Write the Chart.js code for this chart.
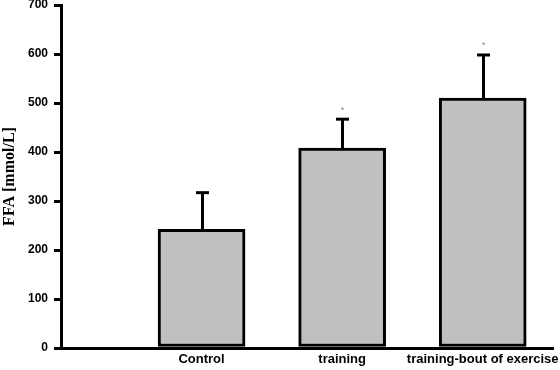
<!DOCTYPE html>
<html>
<head>
<meta charset="utf-8">
<script src="https://cdn.jsdelivr.net/npm/chart.js@4"></script>
<style>
  html, body { margin: 0; padding: 0; background: #ffffff; }
  #wrap { width: 560px; height: 370px; }
</style>
</head>
<body>
<div id="wrap"><canvas id="c" width="560" height="370"></canvas></div>
<script>
// ---- data ----
const categories = ['Control', 'training', 'training-bout of exercise'];
const positions = [1, 2, 3];
const ffaMeans = [242, 408, 510];
const ffaErrors = [75, 59, 88];
const significance = ['', '*', '*'];
const yTicks = [0, 100, 200, 300, 400, 500, 600, 700];

const points = positions.map((p, i) => ({ x: p, y: ffaMeans[i] }));

const errorBarPlugin = {
  id: 'errorBars',
  afterDatasetsDraw(chart) {
    const ctx = chart.ctx;
    const xs = chart.scales.x, ys = chart.scales.y;
    ctx.save();
    ctx.strokeStyle = '#000';
    ctx.lineWidth = 3;
    positions.forEach((p, i) => {
      const x = Math.round(xs.getPixelForValue(p)) + 0.5;
      const y0 = ys.getPixelForValue(ffaMeans[i]);
      const y1 = ys.getPixelForValue(ffaMeans[i] + ffaErrors[i]);
      ctx.beginPath();
      ctx.moveTo(x, y0 + 2);
      ctx.lineTo(x, y1);
      ctx.stroke();
      ctx.beginPath();
      ctx.moveTo(x - 6.5, y1);
      ctx.lineTo(x + 6.5, y1);
      ctx.stroke();
      if (significance[i]) {
        ctx.fillStyle = '#888';
        ctx.font = '9px "Liberation Sans", Arial, sans-serif';
        ctx.textAlign = 'center';
        ctx.textBaseline = 'middle';
        ctx.fillText(significance[i], x, y1 - 9);
      }
    });
    ctx.restore();
  }
};

new Chart(document.getElementById('c'), {
  type: 'bar',
  data: {
    datasets: [{
      data: points,
      backgroundColor: '#c0c0c0',
      borderColor: '#000000',
      borderWidth: 3,
      borderSkipped: false,
      barThickness: 87
    }]
  },
  options: {
    responsive: false,
    animation: false,
    devicePixelRatio: 1,
    layout: { padding: { top: 5, right: 7, left: 0, bottom: 0 } },
    plugins: { legend: { display: false }, tooltip: { enabled: false } },
    scales: {
      x: {
        type: 'linear',
        min: 0,
        max: 3.5,
        offset: false,
        grid: { display: false, drawTicks: false, offset: false },
        border: { display: true, color: '#000', width: 3 },
        afterBuildTicks(scale) { scale.ticks = positions.map(v => ({ value: v })); },
        afterFit(scale) { scale.height = 22; scale.paddingLeft = 0; scale.paddingRight = 0; },
        ticks: {
          autoSkip: false,
          maxRotation: 0,
          padding: 4,
          color: '#000',
          font: { family: '"Liberation Sans", Arial, sans-serif', size: 13, weight: 'bold' },
          callback: (v) => categories[positions.indexOf(v)] ?? ''
        }
      },
      y: {
        min: 0,
        max: 700,
        afterBuildTicks(scale) { scale.ticks = yTicks.map(v => ({ value: v })); },
        afterFit(scale) { scale.width = 61; scale.paddingTop = 0; scale.paddingBottom = 0; },
        grid: { display: true, drawOnChartArea: false, drawTicks: true, tickLength: 7, color: '#000', lineWidth: 3 },
        border: { display: true, color: '#000', width: 3 },
        ticks: {
          padding: 6,
          color: '#000',
          font: { family: '"Liberation Sans", Arial, sans-serif', size: 12, weight: 'bold' }
        },
        title: {
          display: true,
          text: 'FFA [mmol/L]',
          color: '#000',
          padding: { top: 0, bottom: 0 },
          font: { family: '"Liberation Serif", "Times New Roman", serif', size: 16, weight: 'bold' }
        }
      }
    }
  },
  plugins: [errorBarPlugin]
});
</script>
</body>
</html>
